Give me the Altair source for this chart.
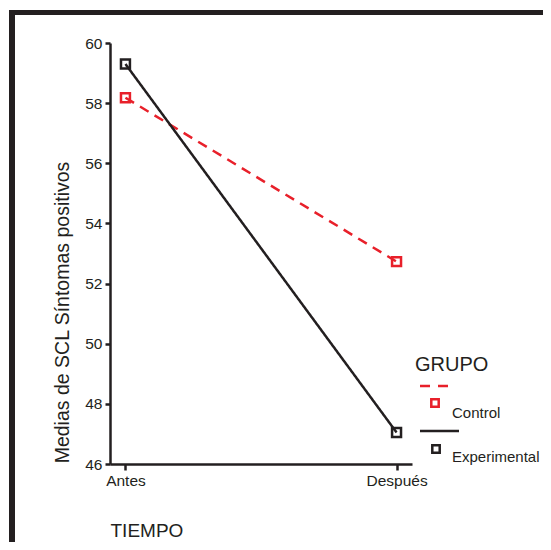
import altair as alt
import pandas as pd

tiempo = ["Antes", "Después"]
grupos = ["Control", "Experimental"]
control_vals = [58.18, 52.73]
experimental_vals = [59.3, 47.05]
y_ticks = [46, 48, 50, 52, 54, 56, 58, 60]

RED = "#e8202a"
BLACK = "#231f20"
FONT = "Liberation Sans"

rows = []
for t, v in zip(tiempo, control_vals):
    rows.append({"TIEMPO": t, "GRUPO": "Control", "valor": v})
for t, v in zip(tiempo, experimental_vals):
    rows.append({"TIEMPO": t, "GRUPO": "Experimental", "valor": v})
df = pd.DataFrame(rows)

x_enc = alt.X("TIEMPO:N", sort=tiempo,
              scale=alt.Scale(type="point", padding=0.057),
              axis=alt.Axis(title="TIEMPO", labelAngle=0, titleX=0, titleY=66,
                            titleAlign="left", titleBaseline="middle",
                            titleFontSize=19, titleFontWeight="normal",
                            labelFontSize=15.5, labelPadding=3, tickSize=6,
                            tickWidth=2.5, domainWidth=2.5, domainColor=BLACK,
                            tickColor=BLACK, labelColor=BLACK, titleColor=BLACK,
                            labelFont=FONT, titleFont=FONT, grid=False))
y_enc = alt.Y("valor:Q",
              scale=alt.Scale(domain=[46, 60], nice=False, zero=False),
              axis=alt.Axis(title="Medias de SCL Síntomas positivos", values=y_ticks,
                            titleX=-48, titleY=269, titleAngle=-90,
                            titleAlign="center", titleBaseline="middle",
                            titleFontSize=19.5, titleFontWeight="normal",
                            labelFontSize=15.5, labelPadding=3, tickSize=5,
                            tickWidth=2.5, domainWidth=2.5, domainColor=BLACK,
                            tickColor=BLACK, labelColor=BLACK, titleColor=BLACK,
                            labelFont=FONT, titleFont=FONT, grid=False))
color_enc = alt.Color("GRUPO:N", scale=alt.Scale(domain=grupos, range=[RED, BLACK]), legend=None)
dash_enc = alt.StrokeDash("GRUPO:N", scale=alt.Scale(domain=grupos, range=[[10, 7], [1, 0]]), legend=None)

base = alt.Chart(df)
lines = base.mark_line(strokeWidth=2.5).encode(x=x_enc, y=y_enc, color=color_enc, strokeDash=dash_enc)
points = base.mark_point(shape="square", filled=False, strokeWidth=2.5, size=80, opacity=1).encode(
    x=x_enc, y=y_enc, color=color_enc)

one = pd.DataFrame({"a": [0]})
frame_left = alt.Chart(one).mark_rule(color=BLACK, strokeWidth=6).encode(
    x=alt.value(-98), y=alt.value(-33), y2=alt.value(499))
frame_top = alt.Chart(one).mark_rule(color=BLACK, strokeWidth=5).encode(
    x=alt.value(-101), x2=alt.value(433), y=alt.value(-30.5))

# custom legend
leg_title = alt.Chart(one).mark_text(text="GRUPO", font=FONT, fontSize=20, align="left",
                                     baseline="middle", color=BLACK).encode(
    x=alt.value(305), y=alt.value(322))
leg_red_line = alt.Chart(one).mark_rule(color=RED, strokeWidth=2.5, strokeDash=[10, 8]).encode(
    x=alt.value(310), x2=alt.value(338), y=alt.value(343))
leg_black_line = alt.Chart(one).mark_rule(color=BLACK, strokeWidth=2.5).encode(
    x=alt.value(310), x2=alt.value(349), y=alt.value(388))
leg_red_sq = alt.Chart(one).mark_point(shape="square", filled=False, strokeWidth=2.5, size=55,
                                       color=RED, opacity=1).encode(
    x=alt.value(325), y=alt.value(360))
leg_black_sq = alt.Chart(one).mark_point(shape="square", filled=False, strokeWidth=2.5, size=55,
                                         color=BLACK, opacity=1).encode(
    x=alt.value(326), y=alt.value(406))
leg_ctrl = alt.Chart(one).mark_text(text=grupos[0], font=FONT, fontSize=15, align="left",
                                    baseline="middle", color=BLACK).encode(
    x=alt.value(342), y=alt.value(370))
leg_exp = alt.Chart(one).mark_text(text=grupos[1], font=FONT, fontSize=15, align="left",
                                   baseline="middle", color=BLACK).encode(
    x=alt.value(342), y=alt.value(414))

chart = alt.layer(frame_left, frame_top, lines, points, leg_title, leg_red_line, leg_black_line,
                  leg_red_sq, leg_black_sq, leg_ctrl, leg_exp).properties(
    width=302, height=421,
    autosize=alt.AutoSizeParams(type="none"),
    padding={"left": 102, "top": 35, "right": 131, "bottom": 78},
).configure(background="white").configure_view(strokeWidth=0, stroke="transparent")

chart.save("out.html", embed_options={"renderer": "svg", "actions": False})
